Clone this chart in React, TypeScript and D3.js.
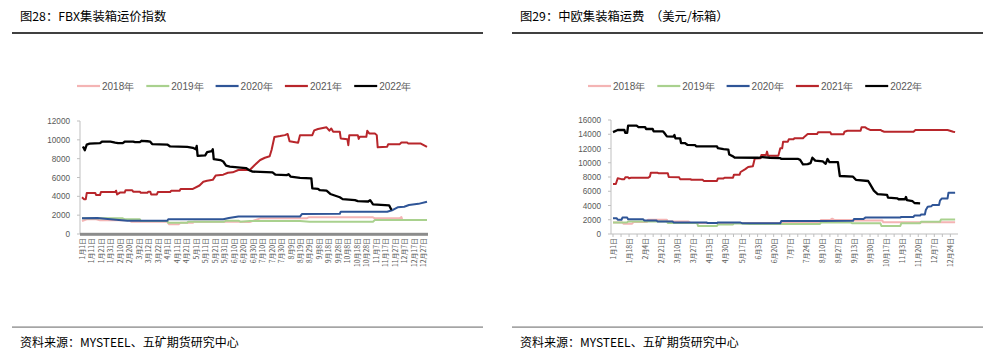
import React from "react";
import * as d3 from "d3";

type Pt = [number, number];

// ---------- Left chart: FBX index (day of year, value) ----------
const fbx2018: Pt[] = [[0,1380],[5,1560],[15,1560],[19,1450],[50,1490],[52,1310],[90,1310],[92,1030],[102,1030],[104,1200],[117,1200],[118,1310],[165,1310],[177,1280],[188,1660],[237,1660],[239,1770],[307,1770],[309,1660],[335,1660],[337,1800],[338,1490],[364,1490]];
const fbx2019: Pt[] = [[0,1660],[43,1660],[45,1560],[61,1560],[62,1380],[90,1380],[91,1200],[111,1200],[112,1310],[150,1310],[152,1420],[165,1420],[167,1310],[177,1380],[230,1380],[240,1310],[307,1310],[309,1490],[364,1490]];
const fbx2020: Pt[] = [[0,1660],[16,1700],[30,1560],[48,1400],[90,1400],[91,1560],[149,1560],[155,1700],[165,1850],[230,1850],[232,2120],[272,2150],[273,2370],[322,2370],[328,2550],[333,2830],[340,2900],[345,3080],[355,3200],[364,3430]];
const fbx2021: Pt[] = [[0,3900],[2,3700],[4,3700],[5,4350],[14,4350],[15,4130],[19,4130],[20,4460],[35,4460],[36,4600],[37,4200],[40,4400],[45,4400],[46,4650],[53,4650],[54,4500],[61,4500],[62,4380],[69,4380],[70,4500],[72,4500],[73,4200],[79,4200],[80,4450],[93,4450],[94,4600],[103,4600],[104,4780],[117,4780],[124,5150],[128,5550],[132,5650],[138,5750],[141,6200],[149,6300],[154,6500],[159,6550],[165,6800],[177,6800],[182,7300],[188,7860],[193,8100],[198,8250],[200,8920],[203,10300],[209,10400],[214,10500],[217,10620],[219,9850],[228,9700],[230,10500],[243,10500],[245,11000],[249,11150],[258,11330],[261,10970],[263,11200],[265,10860],[272,10860],[273,10150],[280,10050],[281,9430],[282,10500],[291,10500],[292,10100],[293,10330],[300,10330],[301,10970],[303,10680],[309,10680],[311,10500],[312,9200],[322,9270],[323,9520],[335,9520],[337,9720],[343,9720],[344,9620],[357,9620],[364,9250]];
const fbx2022: Pt[] = [[1,9300],[3,8900],[5,9500],[8,9600],[19,9650],[21,9800],[30,9800],[35,9700],[38,9650],[43,9650],[45,9800],[54,9800],[56,9750],[61,9750],[63,9900],[69,9850],[72,9800],[74,9550],[90,9500],[93,9300],[111,9250],[117,9150],[120,9000],[121,9350],[122,8300],[130,8350],[132,8700],[137,8800],[138,9000],[139,7950],[146,7850],[149,7700],[152,7250],[156,7150],[167,7050],[173,7000],[177,6750],[180,6620],[201,6550],[204,6300],[216,6250],[218,6350],[220,6100],[230,5950],[242,5900],[243,4850],[249,4800],[251,4650],[258,4600],[262,4250],[272,3900],[275,3700],[288,3600],[291,3500],[302,3450],[304,3600],[306,3300],[307,3150],[324,3050],[326,2650],[327,2600]];
const fbxTicks = [0, 2000, 4000, 6000, 8000, 10000, 12000];
const fbxLabels = ["1月1日","1月11日","1月21日","1月31日","2月10日","2月20日","3月2日","3月12日","3月22日","4月1日","4月11日","4月21日","5月1日","5月11日","5月21日","5月31日","6月10日","6月20日","6月30日","7月10日","7月20日","7月30日","8月9日","8月19日","8月29日","9月8日","9月18日","9月28日","10月8日","10月18日","10月28日","11月7日","11月17日","11月27日","12月7日","12月17日","12月27日"];

// ---------- Right chart: China-Europe container freight ----------
const ce2018: Pt[] = [[0,1600],[10,1600],[11,1450],[20,1450],[22,1700],[36,1700],[37,2000],[57,2000],[58,1760],[80,1760],[82,1540],[219,1540],[220,1980],[230,1980],[232,2150],[234,1980],[252,1980],[253,1900],[285,1900],[286,1640],[362,1640]];
const ce2019: Pt[] = [[0,1630],[15,1630],[16,1760],[57,1760],[58,1540],[89,1540],[90,1120],[110,1120],[111,1340],[127,1340],[128,1500],[145,1410],[219,1410],[220,1600],[252,1600],[253,1500],[283,1500],[284,1120],[304,1120],[305,1500],[325,1500],[326,1720],[346,1720],[347,2030],[362,2030]];
const ce2020: Pt[] = [[0,2200],[4,2200],[5,2000],[9,2000],[10,2300],[15,2300],[16,2060],[32,2060],[33,1900],[46,1900],[47,1770],[63,1770],[64,1620],[99,1620],[100,1540],[110,1540],[111,1620],[135,1600],[137,1500],[177,1500],[178,1820],[222,1820],[254,1860],[255,2100],[265,2100],[267,2300],[304,2300],[305,2400],[318,2400],[319,2600],[325,2600],[326,2740],[330,2740],[331,3370],[333,3840],[337,3900],[338,4070],[345,4070],[346,4680],[348,5000],[354,5000],[355,5800],[362,5800]];
const ce2021: Pt[] = [[0,7020],[3,7020],[5,7820],[9,7700],[12,7700],[13,7950],[16,7950],[17,7800],[19,7890],[37,7890],[39,8050],[40,8600],[47,8600],[48,8540],[58,8540],[59,8000],[70,7950],[71,7700],[82,7700],[83,7600],[95,7600],[96,7450],[110,7450],[111,7800],[117,7800],[118,7890],[127,7890],[128,8330],[134,8330],[135,8700],[140,9100],[143,9400],[148,9500],[150,10600],[156,10620],[157,11090],[162,11090],[163,11560],[164,11000],[175,11000],[177,12030],[179,12030],[180,12960],[185,12960],[186,13290],[191,13290],[192,13430],[201,13430],[203,13700],[206,14040],[216,14040],[217,14270],[230,14270],[231,14000],[244,14000],[245,14360],[248,14500],[262,14500],[263,14970],[267,14970],[269,14800],[272,14600],[283,14600],[285,14450],[287,14360],[318,14360],[320,14600],[354,14600],[360,14360],[362,14300]];
const ce2022: Pt[] = [[0,14300],[5,14600],[12,14600],[13,14200],[15,14200],[16,15200],[25,15200],[27,15000],[34,15000],[35,14740],[42,14740],[43,14400],[53,14400],[54,14240],[57,13700],[64,13660],[65,13900],[66,13430],[71,13430],[72,12760],[76,12760],[79,12500],[87,12480],[88,12300],[110,12300],[111,12040],[117,11900],[122,11850],[123,11150],[127,10900],[129,10710],[154,10700],[158,10800],[166,10700],[177,10650],[178,10530],[196,10530],[198,10400],[201,9780],[206,9800],[209,9950],[211,10710],[214,10300],[222,10180],[225,9850],[227,10530],[229,10100],[238,10100],[240,8140],[254,8050],[257,7600],[270,7440],[272,7000],[276,6080],[280,5600],[290,5500],[291,5100],[301,5000],[302,4880],[309,4880],[310,5200],[311,4750],[317,4600],[319,4350],[325,4300]];
const ceTicks = [0, 2000, 4000, 6000, 8000, 10000, 12000, 14000, 16000];
const ceLabels = ["1月1日","1月18日","2月4日","2月21日","3月10日","3月27日","4月13日","4月30日","5月17日","6月3日","6月20日","7月7日","7月24日","8月10日","8月27日","9月13日","9月30日","10月17日","11月3日","11月20日","12月7日","12月24日"];

const seriesNames = ["2018年", "2019年", "2020年", "2021年", "2022年"];
const seriesColors = ["#f4b4b4", "#a9d18e", "#2f5597", "#b8262b", "#000000"];

const FONT = "'Noto Sans CJK SC', 'Noto Sans', sans-serif";
const AXFONT = "'Liberation Sans', Arial, sans-serif";

interface ChartProps {
  ox: number;
  title: string;
  subtitle?: string;
  series: Pt[][];
  ticks: number[];
  yMax: number;
  labels: string[];
  labelStep: number;
  xRange: [number, number];
  yTop: number;
  axisX: number;
  thickAxis: boolean;
  legendX: number;
}

function Chart(p: ChartProps) {
  const x = d3.scaleLinear().domain([0, 364]).range(p.xRange);
  const y = d3.scaleLinear().domain([0, p.yMax]).range([234, p.yTop]);
  const line = d3.line<Pt>().x((d) => x(d[0])).y((d) => y(d[1]));
  const ox = p.ox;
  const xEnd = p.xRange[1] + 1;
  const minorTicks = d3.range(0, 365, p.labelStep / 2);
  return (
    <g>
      <text x={ox + 20} y={21} fontFamily={FONT} fontSize={12.3} fill="#000">{p.title}</text>
      {p.subtitle && (
        <text x={ox + 150} y={21} fontFamily={FONT} fontSize={12.3} fill="#000">{p.subtitle}</text>
      )}
      <rect x={ox + 12} y={32} width={471} height={2} fill="#404040" />
      <rect x={ox + 12} y={326.5} width={471} height={1.2} fill="#7f7f7f" />
      <text x={ox + 20} y={347} fontFamily={FONT} fontSize={12} fill="#000">资料来源：MYSTEEL、五矿期货研究中心</text>

      {/* legend */}
      {seriesNames.map((n, i) => {
        const lx = p.legendX + i * 69.3;
        return (
          <g key={n}>
            <line x1={lx} x2={lx + 23} y1={86} y2={86} stroke={seriesColors[i]} strokeWidth={2.2} />
            <text x={lx + 25} y={89.5} fontFamily={AXFONT} fontSize={10} fill="#595959">{n}</text>
          </g>
        );
      })}

      {/* y axis */}
      <line x1={p.axisX} x2={p.axisX} y1={y(p.yMax)} y2={234} stroke="#bfbfbf" strokeWidth={1} />
      {p.ticks.map((t) => (
        <g key={t}>
          <line x1={p.axisX - 3} x2={p.axisX} y1={y(t)} y2={y(t)} stroke="#bfbfbf" />
          <text x={p.axisX - 10} y={y(t) + 3} textAnchor="end" fontFamily={AXFONT} fontSize={8.2} fill="#595959">{t}</text>
        </g>
      ))}

      {/* x axis */}
      {p.thickAxis ? (
        <rect x={p.axisX} y={232.8} width={xEnd - p.axisX} height={3} fill="#8c8c8c" />
      ) : (
        <g>
          <line x1={p.axisX} x2={xEnd} y1={234} y2={234} stroke="#bfbfbf" />
          {minorTicks.map((d) => (
            <line key={d} x1={x(d)} x2={x(d)} y1={234} y2={237} stroke="#bfbfbf" />
          ))}
        </g>
      )}
      {p.labels.map((l, i) => (
        <text
          key={l}
          transform={`translate(${x(i * p.labelStep)},238) rotate(-90)`}
          textAnchor="end"
          dominantBaseline="central"
          fontFamily={FONT}
          fontSize={6.9}
          fill="#595959"
        >
          {l}
        </text>
      ))}

      {/* series */}
      {p.series.map((s, i) => (
        <path key={i} d={line(s) || ""} fill="none" stroke={seriesColors[i]} strokeWidth={i === 4 ? 2.3 : 2} strokeLinejoin="round" />
      ))}
    </g>
  );
}

export default function App() {
  return (
    <svg width={983} height={355} style={{ position: "absolute", left: 0, top: 0, background: "#fff" }}>
      <rect width={983} height={355} fill="#fff" />
      <Chart
        ox={0}
        title="图28：FBX集装箱运价指数"
        series={[fbx2018, fbx2019, fbx2020, fbx2021, fbx2022]}
        ticks={fbxTicks}
        yMax={12000}
        labels={fbxLabels}
        labelStep={10}
        xRange={[82, 427]}
        yTop={121}
        axisX={80}
        thickAxis={true}
        legendX={77}
      />
      <Chart
        ox={500}
        title="图29：中欧集装箱运费"
        subtitle="（美元/标箱）"
        series={[ce2018, ce2019, ce2020, ce2021, ce2022]}
        ticks={ceTicks}
        yMax={16000}
        labels={ceLabels}
        labelStep={17}
        xRange={[613, 957]}
        yTop={120}
        axisX={611}
        thickAxis={false}
        legendX={588}
      />
    </svg>
  );
}
